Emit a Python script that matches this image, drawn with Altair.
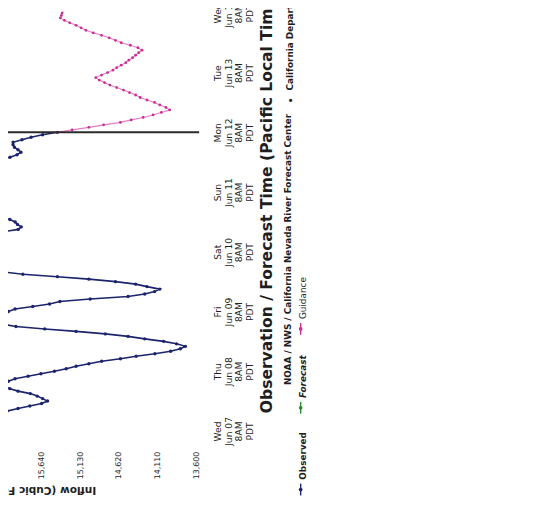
import json
import altair as alt
import pandas as pd

# ---------------- data ----------------
# hours counted from Wed Jun 07 8AM PDT
OBS_START_HOUR = -6
OBS_INFLOW = [
    16650, 16720, 16780, 16820, 16820, 16780,            # -6 .. -1
    16720, 16650, 16580, 16500, 16420, 16340, 16260,     # 0 .. 6
    16190, 16096, 15953, 15797, 15641, 15563, 15628,     # 7 .. 13
    15700, 15790, 15953, 16060, 16140, 16160, 16080,     # 14 .. 20
    15992, 15820, 15650, 15472, 15316, 15186, 15017,     # 21 .. 27
    14848, 14601, 14393, 14146, 13938, 13810, 13743,     # 28 .. 34
    13860, 14030, 14280, 14500, 14800, 15186, 15600,     # 35 .. 41
    15980, 16187, 16330, 16400, 16300, 16187, 16080,     # 42 .. 48
    15992, 15758, 15537, 15400, 15000, 14500, 14280,     # 49 .. 55
    14150, 14081, 14250, 14400, 14666, 15017, 15433,     # 56 .. 62
    15888, 16187, 16400, 16600, 16750, 16850, 16900,     # 63 .. 69
    16900, 16850, 16800, 16750, 16700, 16650, 16550,     # 70 .. 76
    16450, 16350, 16250, 16150, 15950, 15910, 15960,     # 77 .. 83
    15990, 16060, 16200, 16350, 16500, 16650, 16800,     # 84 .. 90
    16900, 16950, 17000, 17000, 16950, 16900, 16850,     # 91 .. 97
    16800, 16750, 16700, 16650, 16600, 16550, 16500,     # 98 .. 104
    16450, 16400, 16330, 16260, 16187, 16057, 15966,     # 105 .. 111
    15914, 15953, 16000, 16018, 16018, 15900, 15780,     # 112 .. 118
    15628, 15433,                                        # 119 .. 120
]
GUIDE_START_HOUR = 120
GUIDE_INFLOW = [
    15433, 15238, 15017, 14822, 14601, 14458, 14300,     # 120 .. 126
    14170, 14060, 13951, 14000, 14080, 14150, 14250,     # 127 .. 133
    14340, 14400, 14480, 14560, 14650, 14740, 14810,     # 134 .. 140
    14880, 14926, 14850, 14770, 14700, 14650, 14590,     # 141 .. 147
    14530, 14490, 14440, 14400, 14360, 14315, 14370,     # 148 .. 154
    14470, 14590, 14666, 14750, 14850, 14960, 15056,     # 155 .. 161
    15120, 15186, 15270, 15340, 15394, 15380, 15370,     # 162 .. 168
    15360, 15350,                                        # 169 .. 170
]
NOW_HOUR = [120]

INFLOW_TICKS = [13600, 14110, 14620, 15130, 15640, 16150]
TIME_TICKS = [0, 24, 48, 72, 96, 120, 144, 168]
TICK_DAYS = ["Wed", "Thu", "Fri", "Sat", "Sun", "Mon", "Tue", "Wed"]
TICK_DATES = ["Jun 07", "Jun 08", "Jun 09", "Jun 10", "Jun 11", "Jun 12", "Jun 13", "Jun 14"]
TICK_HOUR = "8AM"
TICK_ZONE = "PDT"

X_TITLE = "Inflow (Cubic Feet per Second)"
Y_TITLE = "Observation / Forecast Time (Pacific Local Time)"
LEGEND_LABELS = ["Observed", "Forecast", "Guidance"]
SOURCE_PARTS = ["NOAA / NWS / California Nevada River Forecast Center", "\u2022",
                "California Department of Water Resources"]

# ---------------- styling ----------------
FONT = "DejaVu Sans"
NAVY = "#1b246c"
GREEN = "#2f8a2f"
PINK_LINE = "#e67cc6"
PINK_DOT = "#c92f92"
TEXT = "#1e1e1e"
W, H = 194, 440

obs = pd.DataFrame({
    "hour": list(range(OBS_START_HOUR, OBS_START_HOUR + len(OBS_INFLOW))),
    "inflow": OBS_INFLOW,
})
guide = pd.DataFrame({
    "hour": list(range(GUIDE_START_HOUR, GUIDE_START_HOUR + len(GUIDE_INFLOW))),
    "inflow": GUIDE_INFLOW,
})
now = pd.DataFrame({"hour": NOW_HOUR})

x_scale = alt.Scale(domain=[13561, 16085], reverse=True, nice=False, zero=False)
y_scale = alt.Scale(domain=[-5.74, 168.5], nice=False, zero=False)

time_label_expr = (
    f"[{json.dumps(TICK_DAYS)}[round(datum.value/24)], "
    f"{json.dumps(TICK_DATES)}[round(datum.value/24)], '{TICK_HOUR}', '{TICK_ZONE}']"
)

x_axis = alt.Axis(
    values=INFLOW_TICKS, labelExpr="format(datum.value, ',')", grid=False, ticks=False, domain=False,
    labelAngle=270, labelAlign="right", labelBaseline="middle", labelPadding=6,
    labelFont=FONT, labelFontSize=8, labelColor=TEXT, labelFlush=False, labelOverlap=False,
    title=X_TITLE, titleAngle=180, titleAlign="left", titleBaseline="middle",
    titleX=89, titleY=45, titleFont=FONT, titleFontSize=10.7, titleFontWeight="bold",
    titleColor=TEXT,
)
y_axis = alt.Axis(
    orient="right", values=TIME_TICKS, grid=False, ticks=False, domain=False,
    labelExpr=time_label_expr, labelAngle=270, labelAlign="center", labelBaseline="top",
    labelPadding=15, labelFont=FONT, labelFontSize=9.3, labelLineHeight=10.7,
    labelColor=TEXT, labelFlush=False, labelOverlap=False,
    title=Y_TITLE, titleAngle=270, titleAlign="left", titleBaseline="middle",
    titleX=68, titleY=407, titleFont=FONT, titleFontSize=15.8, titleFontWeight="bold",
    titleColor=TEXT,
)

X = alt.X("inflow:Q", scale=x_scale, axis=x_axis)
Y = alt.Y("hour:Q", scale=y_scale, axis=y_axis)

obs_line = alt.Chart(obs).mark_line(color=NAVY, strokeWidth=1.6, clip=True).encode(x=X, y=Y, order="hour:Q")
obs_pts = alt.Chart(obs).mark_circle(color=NAVY, size=12, opacity=1, clip=True).encode(x=X, y=Y)
guide_line = alt.Chart(guide).mark_line(color=PINK_LINE, strokeWidth=1.1, clip=True).encode(x=X, y=Y, order="hour:Q")
guide_pts = alt.Chart(guide).mark_circle(color=PINK_DOT, size=8, opacity=1, clip=True).encode(x=X, y=Y)
now_rule = alt.Chart(now).mark_rule(color="#2a2a2a", strokeWidth=2).encode(y=Y)


def vtext(label, px, py, size, weight="bold", style="normal", color=TEXT):
    d = pd.DataFrame({"label": [label]})
    return alt.Chart(d).mark_text(
        angle=270, align="left", baseline="middle", font=FONT, fontSize=size,
        fontWeight=weight, fontStyle=style, color=color,
    ).encode(x=alt.value(px), y=alt.value(py), text="label:N")


def legend_symbol(color, px, py):
    d = pd.DataFrame({"label": ["s"]})
    seg = alt.Chart(d).mark_rule(color=color, strokeWidth=1.4).encode(
        x=alt.value(px), y=alt.value(py - 6), y2=alt.value(py + 6))
    dot = alt.Chart(d).mark_circle(color=color, size=14, opacity=1).encode(
        x=alt.value(px), y=alt.value(py))
    return seg + dot


annotations = [
    vtext(SOURCE_PARTS[0], 284, 379, 9),
    vtext(SOURCE_PARTS[1], 287, 93, 9),
    vtext(SOURCE_PARTS[2], 286, 80, 9),
    legend_symbol(NAVY, 297, 485),
    vtext(LEGEND_LABELS[0], 299, 475, 9),
    legend_symbol(GREEN, 297, 402),
    vtext(LEGEND_LABELS[1], 299, 392, 9, style="italic"),
    legend_symbol(PINK_DOT, 297, 322),
    vtext(LEGEND_LABELS[2], 299, 312, 9, weight="normal"),
]

chart = alt.layer(obs_line, obs_pts, guide_line, guide_pts, now_rule, *annotations).properties(
    width=W, height=H,
    autosize=alt.AutoSizeParams(type="none"),
    padding={"left": 0, "top": 0, "right": 353, "bottom": 60},
    background="white",
).configure_view(stroke=None)

chart.save("out.html", embed_options={"renderer": "svg", "actions": False})
